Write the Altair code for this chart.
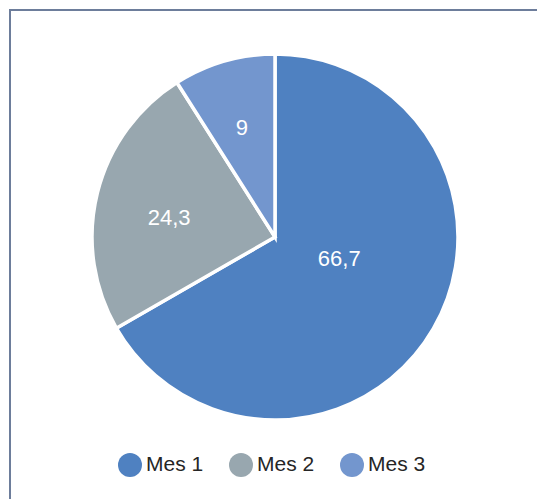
import altair as alt
import pandas as pd

categories = ["Mes 1", "Mes 2", "Mes 3"]
values = [66.7, 24.3, 9]
labels = ["66,7", "24,3", "9"]
order = [0, 1, 2]
colors = ["#4f81c1", "#98a7af", "#7396ce"]

df = pd.DataFrame({"mes": categories, "valor": values, "etiqueta": labels, "orden": order})

FONT = "Liberation Sans"
CX, CY, R = 265, 227, 183

base = alt.Chart(df).encode(
    theta=alt.Theta("valor:Q", stack=True),
    order=alt.Order("orden:Q"),
)

arcs = base.mark_arc(stroke="white", strokeWidth=3.5).encode(
    color=alt.Color(
        "mes:N",
        scale=alt.Scale(domain=categories, range=colors),
        legend=alt.Legend(
            title=None,
            orient="none",
            direction="horizontal",
            legendX=108,
            legendY=443,
            symbolType="circle",
            symbolSize=576,
            symbolStrokeWidth=0,
            symbolOpacity=1,
            labelFont=FONT,
            labelFontSize=21,
            labelColor="#262626",
            labelOffset=4,
            columnPadding=25,
        ),
    ),
    x=alt.value(CX),
    y=alt.value(CY),
    radius=alt.value(R),
)


def lab(cat, r, dx, dy):
    return base.mark_text(
        radius=r, dx=dx, dy=dy, fontSize=22, font=FONT, color="white"
    ).encode(
        text="etiqueta:N",
        x=alt.value(CX),
        y=alt.value(CY),
        opacity=alt.condition(alt.datum.mes == cat, alt.value(1), alt.value(0)),
    )


frame = alt.Chart(pd.DataFrame({"f": [0]})).mark_rect(
    fillOpacity=0, stroke="#6d7d9b", strokeWidth=2
).encode(
    x=alt.value(0), y=alt.value(0), x2=alt.value(600), y2=alt.value(600)
)

chart = alt.layer(
    frame,
    arcs,
    lab("Mes 1", 65, 8, -11),
    lab("Mes 2", 108, -1, 7),
    lab("Mes 3", 113, -1.5, 0),
).properties(
    width=527,
    height=489,
    padding={"left": 10, "top": 10, "right": 0, "bottom": 0},
    autosize="none",
).configure_view(stroke=None).configure(background="white")

chart.save("out.html", embed_options={"renderer": "svg", "actions": False})
